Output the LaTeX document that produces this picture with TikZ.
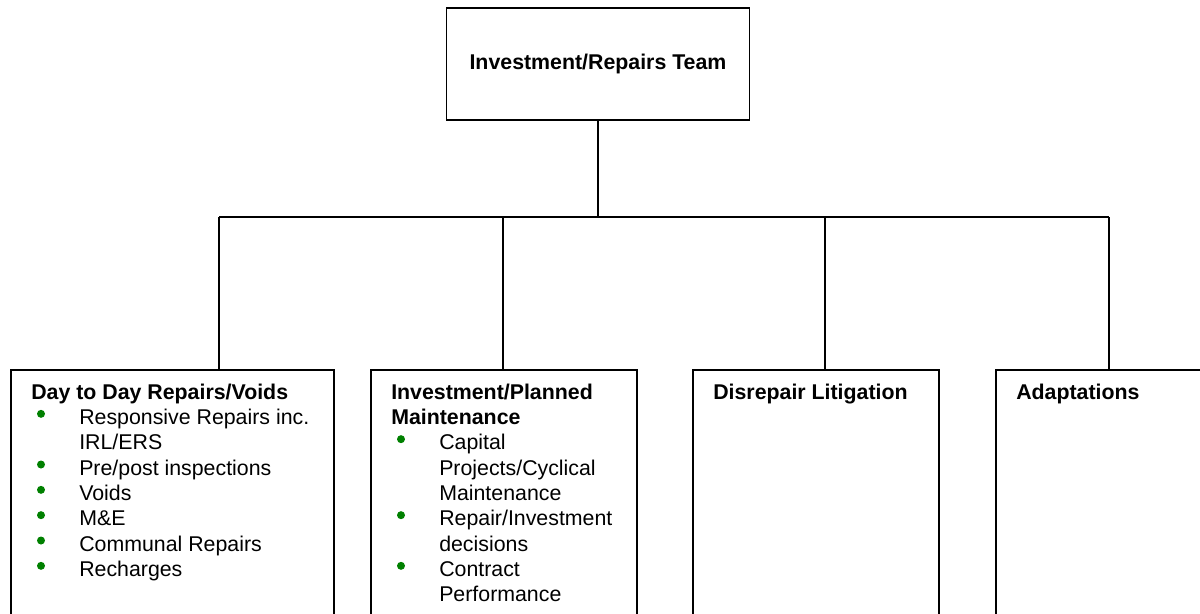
\documentclass[tikz,border=0pt]{standalone}
\usepackage{fontspec}
\setmainfont{Liberation Sans}
\usepackage{xcolor}
\definecolor{bulgreen}{RGB}{0,128,0}
\newcommand{\itemind}{\hspace*{36pt}}
\newcommand{\firststrut}{\rule{0pt}{12pt}}
\begin{document}
\begin{tikzpicture}[x=0.75pt,y=-0.75pt,
  box/.style={draw,line width=1.2pt,rectangle,inner sep=0pt,anchor=north west,minimum height=218pt},
  txt/.style={anchor=north west,inner sep=0pt,align=left,font=\fontsize{16}{19}\selectfont},
  bullet/.style={fill=bulgreen},
  conn/.style={line width=1.2pt}]
\clip (0,0) rectangle (1200,614);
\fill[white] (0,0) rectangle (1200,614);
\node[draw,line width=1.2pt,minimum width=227.25pt,minimum height=84pt,inner sep=0pt,
  font=\bfseries\fontsize{16}{19}\selectfont] (top) at (598,64) {Investment/Repairs Team};
\node[box,minimum width=242.25pt] (b1) at (10,369) {};
\node[box,minimum width=199.5pt] (b2) at (370,369) {};
\node[box,minimum width=184.5pt] (b3) at (692,369) {};
\node[box,minimum width=176.25pt] (b4) at (995,369) {};
\node[txt] (t1) at (31,383) {\firststrut\textbf{Day to Day Repairs/Voids}\\
  \itemind Responsive Repairs inc.\\
  \itemind IRL/ERS\\
  \itemind Pre/post inspections\\
  \itemind Voids\\
  \itemind M\&E\\
  \itemind Communal Repairs\\
  \itemind Recharges};
\node[txt] (t2) at (391,383) {\firststrut\textbf{Investment/Planned}\\
  \textbf{Maintenance}\\
  \itemind Capital\\
  \itemind Projects/Cyclical\\
  \itemind Maintenance\\
  \itemind Repair/Investment\\
  \itemind decisions\\
  \itemind Contract\\
  \itemind Performance};
\node[txt] (t3) at (713,383) {\firststrut\textbf{Disrepair Litigation}};
\node[txt] (t4) at (1016,383) {\firststrut\textbf{Adaptations}};
% bullets: baseline of line k = 399 + 25.33k, bullet centre 10.5px above
\foreach \k in {1,3,4,5,6,7}
  \fill[bullet] (41,{388.5+25.333*\k}) circle[radius=3pt];
\foreach \k in {2,5,7}
  \fill[bullet] (401,{388.5+25.333*\k}) circle[radius=3pt];
\coordinate (j1) at (219,217);
\coordinate (j2) at (503,217);
\coordinate (j3) at (825,217);
\coordinate (j4) at (1109,217);
\draw[conn] (top.south) -- (top.south |- j1);
\draw[conn] (j1) -- (j4);
\draw[conn] (j1) -- (j1 |- b1.north);
\draw[conn] (j2) -- (j2 |- b2.north);
\draw[conn] (j3) -- (j3 |- b3.north);
\draw[conn] (j4) -- (j4 |- b4.north);
\end{tikzpicture}
\end{document}
